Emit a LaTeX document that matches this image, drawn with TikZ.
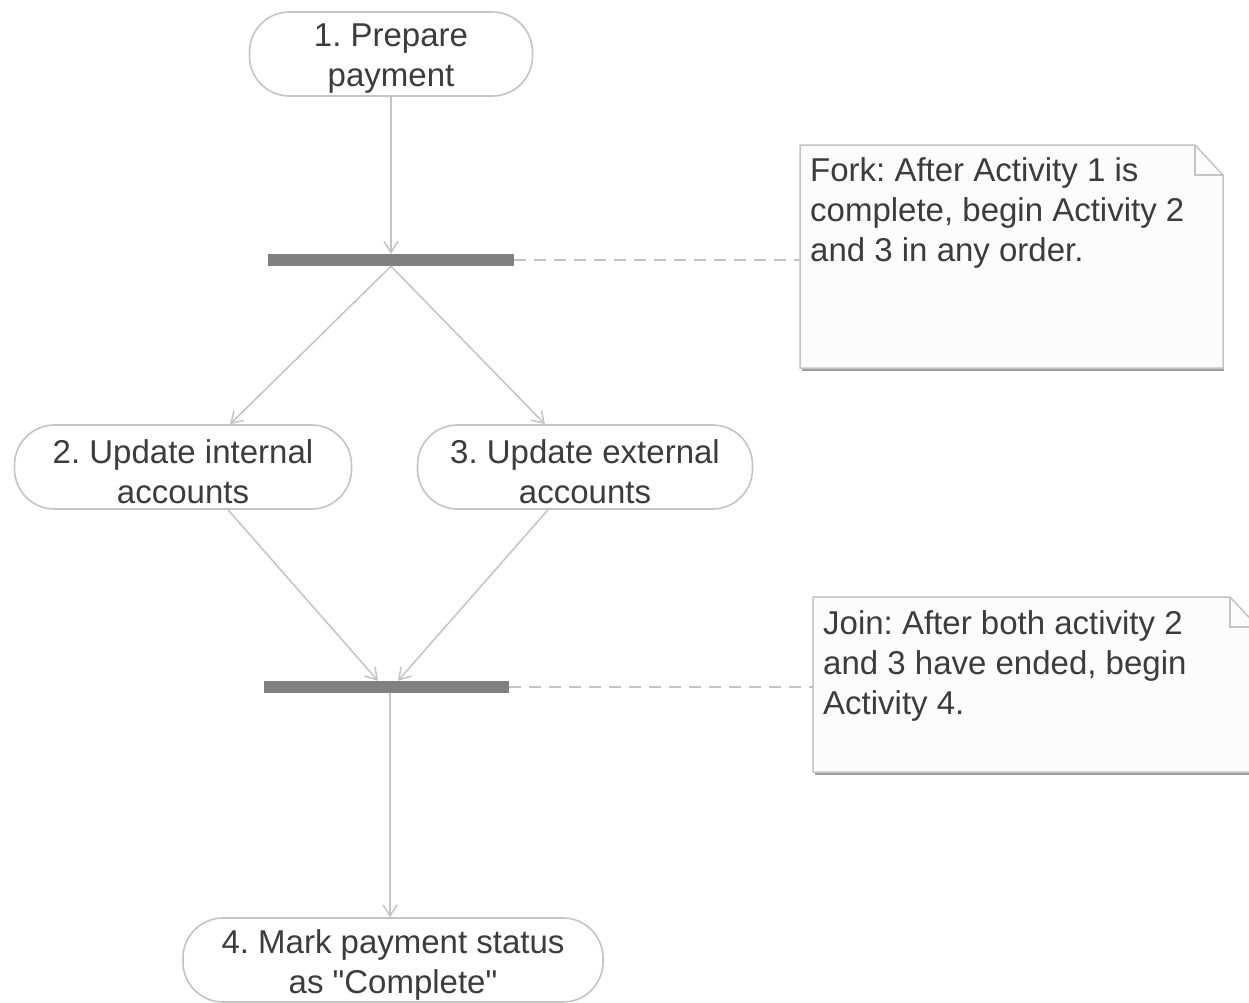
\documentclass[tikz,border=0pt]{standalone}
\usepackage{fontspec}
\setmainfont{Liberation Sans}
\usetikzlibrary{arrows.meta}
\frenchspacing
\definecolor{txt}{HTML}{3C3C3C}
\definecolor{edge}{HTML}{C4C4C4}
\definecolor{barfill}{HTML}{808080}
\definecolor{notefill}{HTML}{FCFCFC}
\tikzset{
  lbl/.style={font=\fontsize{33}{40}\selectfont, text=txt},
  act/.style={draw=edge, line width=1.6pt, fill=white, rounded corners=40pt,
              inner sep=0pt, minimum height=84pt},
  actlbl/.style={lbl, align=center, inner sep=0pt, yshift=-4.5pt},
  syncbar/.style={fill=barfill, draw=none, inner sep=0pt, minimum height=12pt},
  flow/.style={draw=edge, line width=1.5pt, -{Straight Barb[length=11pt,width=14pt,line width=1.5pt]}},
  link/.style={draw=edge, line width=1.5pt, dash pattern=on 12pt off 8pt},
  notetext/.style={lbl, align=left, anchor=north west, inner sep=0pt},
  noteline/.style={draw=edge, line width=1.5pt, fill=notefill},
}
\begin{document}
\begin{tikzpicture}[x=1pt, y=-1pt]
\useasboundingbox[fill=white] (0,0) rectangle (1249,1002);

% activities
\node[act, minimum width=283pt, label={[actlbl]center:1. Prepare\\payment}] (prep) at (391,54) {};
\node[act, minimum width=337pt, label={[actlbl]center:2. Update internal\\accounts}] (intl) at (183,467) {};
\node[act, minimum width=335pt, label={[actlbl]center:3. Update external\\accounts}] (extl) at (585,467) {};
\node[act, minimum width=420pt, label={[actlbl]center:4. Mark payment status\\as \textquotedbl Complete\textquotedbl}] (mark) at (393,960) {};

% fork and join bars
\node[syncbar, minimum width=246pt] (fork) at (391,260) {};
\node[syncbar, minimum width=245pt] (join) at (386,687) {};

% notes with folded corner
\coordinate (n1a) at (800,145);
\draw[noteline] (n1a) -- (1195,145) -- (1223,175) -- (1223,368) -- (800,368) -- cycle;
\draw[edge, line width=1.2pt] (1195,145) -- (1195,175) -- (1223,175);
\draw[edge!80!black, line width=1.8pt] (802,370) -- (1224,370);
\node[notetext] (forknote) at (810,157)
  {Fork: After Activity 1 is\\complete, begin Activity 2\\and 3 in any order.};

\coordinate (n2a) at (813,597);
\draw[noteline] (n2a) -- (1230,597) -- (1258,627) -- (1258,772) -- (813,772) -- cycle;
\draw[edge, line width=1.2pt] (1230,597) -- (1230,627) -- (1258,627);
\draw[edge!80!black, line width=1.8pt] (815,774) -- (1258,774);
\node[notetext] (joinnote) at (823,610)
  {Join: After both activity 2\\and 3 have ended, begin\\Activity 4.};

% control flow
\draw[flow] (prep.south) -- (fork.north);
\draw[flow] (fork.south) -- ([xshift=47pt]intl.north);
\draw[flow] (fork.south) -- ([xshift=-40pt]extl.north);
\draw[flow] ([xshift=45pt]intl.south) -- ([xshift=-8pt]join.north);
\draw[flow] ([xshift=-37pt]extl.south) -- ([xshift=12pt]join.north);
\draw[flow] ([xshift=4pt]join.south) -- ([xshift=-3pt]mark.north);

% note anchors
\draw[link] (fork.east) -- (n1a |- fork.east);
\draw[link] (join.east) -- (n2a |- join.east);
\end{tikzpicture}
\end{document}
